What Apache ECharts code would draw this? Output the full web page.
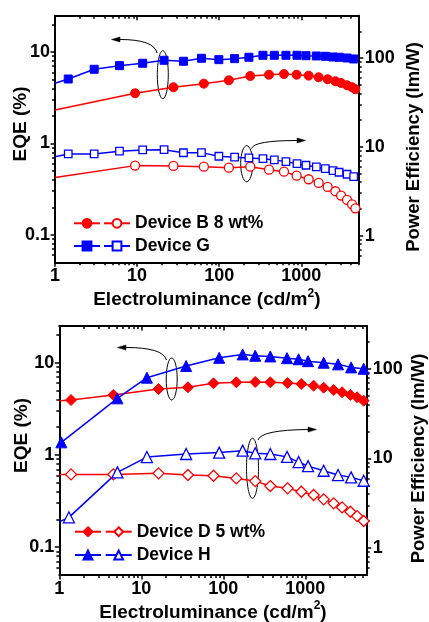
<!DOCTYPE html>
<html><head><meta charset="utf-8">
<script src="https://cdn.jsdelivr.net/npm/echarts@6/dist/echarts.min.js"></script>
<style>html,body{margin:0;padding:0;background:#fff}#c{width:429px;height:622px}</style>
</head><body><div id="c"></div>
<script>
// ---------- Panel 1 (top) ----------
const xG   = [1, 1.45, 3.0, 6.1, 11.7, 21.3, 36.7, 60.8, 99, 154, 230, 341, 469, 650, 886, 1140, 1524, 1962, 2434, 2884, 3607, 4345];
const eqeG = [4.55, 5.07, 6.48, 7.1, 7.54, 8.13, 7.93, 8.55, 8.26, 8.47, 8.77, 9.22, 9.22, 9.22, 9.22, 9.12, 9.06, 8.99, 8.83, 8.77, 8.61, 8.4];
const peG  = [7.74, 8.32, 8.32, 8.93, 9.22, 9.29, 8.57, 8.6, 7.83, 7.65, 7.49, 7.36, 7.11, 6.81, 6.46, 6.2, 5.93, 5.67, 5.39, 5.17, 4.91, 4.61];
const xB   = [1, 9.45, 27.7, 65, 131, 239, 404, 615, 877, 1228, 1626, 2094, 2600, 3050, 3607, 4150, 4560];
const eqeB = [2.32, 3.54, 4.12, 4.51, 4.91, 5.47, 5.65, 5.75, 5.65, 5.52, 5.30, 5.04, 4.79, 4.59, 4.33, 4.12, 3.92];
const peB  = [4.5, 6.14, 6.09, 5.98, 5.82, 5.98, 5.53, 5.25, 4.73, 4.31, 3.92, 3.53, 3.16, 2.82, 2.52, 2.25, 2.03];
// ---------- Panel 2 (bottom) ----------
const xD   = [1, 1.39, 4.56, 16.2, 37, 75.9, 144, 245, 374, 608, 894, 1262, 1673, 2216, 2806, 3543, 4278, 5150];
const eqeD = [3.87, 3.94, 4.47, 5.19, 5.41, 5.98, 6.13, 6.18, 6.13, 6.03, 5.88, 5.63, 5.36, 5.06, 4.78, 4.47, 4.22, 3.87];
const peD  = [6.63, 6.63, 6.63, 6.81, 6.52, 6.40, 5.98, 5.58, 4.91, 4.63, 4.24, 3.90, 3.49, 3.15, 2.84, 2.54, 2.27, 2.0];
const xH   = [1.06, 5.11, 11.7, 35.2, 89, 172, 245, 374, 598, 828, 1079, 1673, 2506, 3614, 5150];
const eqeH = [1.37, 4.11, 6.88, 9.21, 11.3, 12.3, 11.9, 11.7, 11.2, 10.9, 10.4, 10.0, 9.6, 8.9, 8.6];
const xHpe = [1, 1.31, 5.11, 11.7, 35.2, 89, 172, 245, 374, 598, 828, 1079, 1673, 2506, 3614, 5150];
const peH  = [1.96, 2.2, 6.98, 10.35, 11.2, 11.6, 12.2, 11.4, 11.2, 10.4, 9.1, 8.2, 7.28, 6.52, 6.14, 5.63];
// ---------- ticks ----------
const xMajor = [1, 10, 100, 1000];
const xMajorLabels = ['1', '10', '100', '1000'];
const xMinor = [2,3,4,5,6,7,8,9,20,30,40,50,60,70,80,90,200,300,400,500,600,700,800,900,2000,3000,4000,5000];
const eqeMajor = [0.1, 1, 10];
const eqeMajorLabels = ['0.1', '1', '10'];
const eqeMinor = [0.06,0.07,0.08,0.09,0.2,0.3,0.4,0.5,0.6,0.7,0.8,0.9,2,3,4,5,6,7,8,9,20];
const peMajor = [1, 10, 100];
const peMajorLabels = ['1', '10', '100'];
const peMinor = [0.6,0.7,0.8,0.9,2,3,4,5,6,7,8,9,20,30,40,50,60,70,80,90,200];
const legend1 = ['Device B 8 wt%', 'Device G'];
const legend2 = ['Device D 5 wt%', 'Device H'];

const FONT = 'Liberation Sans, Arial, sans-serif';
const RED = '#ff0000', BLUE = '#0000ff';

function fmt(vals, labels) {
  return function (v) {
    for (let i = 0; i < vals.length; i++) if (Math.abs(v / vals[i] - 1) < 1e-6) return labels[i];
    return '';
  };
}
const lineS = {color: '#000', width: 2};
const tickS = {color: '#000', width: 1.5};
const lblS = {fontFamily: FONT, fontSize: 18, fontWeight: 'bold', color: '#000'};

function xAxesFor(g, max) {
  const base = {type: 'log', logBase: 10, gridIndex: g, min: 1, max: max, splitLine: {show: false}, splitArea: {show: false}};
  return [
    Object.assign({}, base, {
      position: 'bottom',
      axisLine: {show: true, onZero: false, lineStyle: lineS},
      axisTick: {show: true, inside: false, length: 4.5, customValues: xMajor, lineStyle: tickS},
      axisLabel: Object.assign({show: true, margin: 5, customValues: xMajor, formatter: fmt(xMajor, xMajorLabels)}, lblS),
      name: '{t|Electroluminance (cd/m}{s|2}{t|)}',
      nameLocation: 'middle', nameGap: 25, nameMoveOverlap: false,
      nameTextStyle: {rich: {
        t: {fontFamily: FONT, fontSize: 19, fontWeight: 'bold', color: '#000', lineHeight: 22, verticalAlign: 'bottom'},
        s: {fontFamily: FONT, fontSize: 12, fontWeight: 'bold', color: '#000', lineHeight: 12, verticalAlign: 'top'}
      }}
    }),
    Object.assign({}, base, {
      position: 'bottom', axisLine: {show: false, onZero: false},
      axisTick: {show: true, inside: false, length: 3, customValues: xMinor, lineStyle: tickS},
      axisLabel: {show: false}
    }),
    Object.assign({}, base, {
      position: 'top', axisLine: {show: true, onZero: false, lineStyle: lineS},
      axisTick: {show: true, inside: true, length: 4.5, customValues: xMajor, lineStyle: tickS},
      axisLabel: {show: false}
    }),
    Object.assign({}, base, {
      position: 'top', axisLine: {show: false, onZero: false},
      axisTick: {show: true, inside: true, length: 3, customValues: xMinor, lineStyle: tickS},
      axisLabel: {show: false}
    })
  ];
}

function yAxesFor(g, leftGap, rightGap) {
  const L = {type: 'log', logBase: 10, gridIndex: g, min: 0.05, max: 25, position: 'left', splitLine: {show: false}};
  const R = {type: 'log', logBase: 10, gridIndex: g, min: 0.5, max: 300, position: 'right', splitLine: {show: false}};
  return [
    Object.assign({}, L, {
      axisLine: {show: true, onZero: false, lineStyle: lineS},
      axisTick: {show: true, inside: false, length: 4.5, customValues: eqeMajor, lineStyle: tickS},
      axisLabel: Object.assign({show: true, margin: 5, customValues: eqeMajor, formatter: fmt(eqeMajor, eqeMajorLabels)}, lblS),
      name: 'EQE (%)', nameLocation: 'middle', nameGap: leftGap, nameRotate: 90, nameMoveOverlap: false,
      nameTextStyle: {fontFamily: FONT, fontSize: 19, fontWeight: 'bold', color: '#000', padding: [0, 0, 0, 30]}
    }),
    Object.assign({}, L, {
      axisLine: {show: false, onZero: false},
      axisTick: {show: true, inside: false, length: 3, customValues: eqeMinor, lineStyle: tickS},
      axisLabel: {show: false}
    }),
    Object.assign({}, R, {
      axisLine: {show: true, onZero: false, lineStyle: lineS},
      axisTick: {show: true, inside: false, length: 4.5, customValues: peMajor, lineStyle: tickS},
      axisLabel: Object.assign({show: true, margin: 6, customValues: peMajor, formatter: fmt(peMajor, peMajorLabels)}, lblS),
      name: 'Power Efficiency (lm/W)', nameLocation: 'middle', nameGap: rightGap, nameRotate: 90, nameMoveOverlap: false,
      nameTextStyle: {fontFamily: FONT, fontSize: 18.5, fontWeight: 'bold', color: '#000', padding: [0, 16, 0, 0]}
    }),
    Object.assign({}, R, {
      axisLine: {show: false, onZero: false},
      axisTick: {show: true, inside: false, length: 3, customValues: peMinor, lineStyle: tickS},
      axisLabel: {show: false}
    })
  ];
}

function mk(name, xs, ys, xi, yi, symbol, size, color, filled) {
  return {
    type: 'line', name: name, xAxisIndex: xi, yAxisIndex: yi,
    symbol: symbol, symbolSize: size, showAllSymbol: true,
    data: xs.map(function (x, i) { return x === 1 ? {value: [x, ys[i]], symbol: 'none'} : [x, ys[i]]; }),
    lineStyle: {color: color, width: 1.5},
    itemStyle: filled ? {color: color, borderColor: color, borderWidth: 1} : {color: '#fff', borderColor: color, borderWidth: 1.3},
    animation: false, silent: true
  };
}

function legendPair(names, leftA, leftB, top, gap) {
  const common = {orient: 'vertical', top: top, itemWidth: 26, itemHeight: 11, itemGap: gap, padding: 0, selectedMode: false,
    textStyle: {fontFamily: FONT, fontSize: 17.5, fontWeight: 'bold', color: '#000', lineHeight: 20}};
  return [
    Object.assign({}, common, {left: leftA, data: names.map(function (n) { return n + ' EQE'; }), formatter: function () { return ' '; }}),
    Object.assign({}, common, {left: leftB, data: names.slice()})
  ];
}

function arrow(x1, y1, cx, cy, x2, y2, dir) {
  const tip = x2 + dir * 8.5;
  return [
    {type: 'bezierCurve', shape: {x1: x1, y1: y1, cpx1: cx, cpy1: cy, x2: x2, y2: y2}, style: {fill: 'none', stroke: '#000', lineWidth: 1}, silent: true},
    {type: 'polygon', shape: {points: [[tip, y2], [x2, y2 - 2.5], [x2, y2 + 2.5]]}, style: {fill: '#000', stroke: '#000', lineWidth: 0.5}, silent: true}
  ];
}
function ell(cx, cy, rx, ry) {
  return {type: 'ellipse', shape: {cx: cx, cy: cy, rx: rx, ry: ry}, style: {fill: 'none', stroke: '#000', lineWidth: 1}, silent: true};
}

const option = {
  backgroundColor: '#fff',
  animation: false,
  grid: [
    {left: 55, right: 70.3, top: 15.7, bottom: 359.7, containLabel: false, outerBoundsMode: 'none'},
    {left: 59.3, right: 62.3, top: 326, bottom: 47, containLabel: false, outerBoundsMode: 'none'}
  ],
  xAxis: xAxesFor(0, 5000).concat(xAxesFor(1, 5600)),
  yAxis: yAxesFor(0, 25, 46).concat(yAxesFor(1, 28, 43)),
  legend: legendPair(legend1, 73, 103, 213.3, 2.7).concat(legendPair(legend2, 74, 104.7, 521.7, 3.3)),
  series: [
    mk('Device B 8 wt% EQE', xB, eqeB, 0, 0, 'circle', 9, RED, true),
    mk('Device B 8 wt%', xB, peB, 0, 2, 'circle', 9, RED, false),
    mk('Device G EQE', xG, eqeG, 0, 0, 'rect', 8, BLUE, true),
    mk('Device G', xG, peG, 0, 2, 'rect', 7.5, BLUE, false),
    mk('Device D 5 wt% EQE', xD, eqeD, 4, 4, 'diamond', 11, RED, true),
    mk('Device D 5 wt%', xD, peD, 4, 6, 'diamond', 11, RED, false),
    mk('Device H EQE', xH, eqeH, 4, 4, 'triangle', 11, BLUE, true),
    mk('Device H', xHpe, peH, 4, 6, 'triangle', 11, BLUE, false)
  ],
  graphic: [
    ell(162.8, 74.7, 5.5, 24),
    ell(246.7, 163.7, 6, 18),
    ell(171.7, 379, 5.5, 21),
    ell(252.5, 468.3, 6, 30)
  ].concat(
    arrow(157, 53, 154, 39.5, 120, 39.5, -1),
    arrow(251.5, 148.5, 254, 140.5, 297, 140.5, 1),
    arrow(166.5, 360, 163, 347.5, 126, 347.5, -1),
    arrow(258, 440, 261, 430, 308, 429.5, 1)
  )
};

const chart = echarts.init(document.getElementById('c'), null, {renderer: 'canvas', width: 429, height: 622});
chart.setOption(option);
</script></body></html>
